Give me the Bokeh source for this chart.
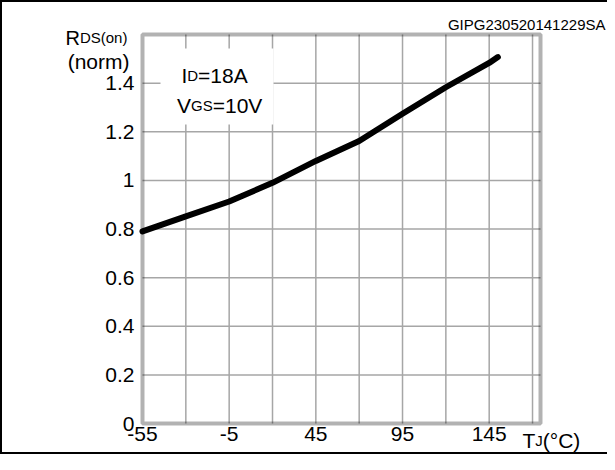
from bokeh.plotting import figure
from bokeh.models import (FixedTicker, Label, BoxAnnotation, Range1d,
                          ColumnDataSource, PrintfTickFormatter)
from bokeh.layouts import column
from bokeh.embed import file_html
from bokeh.resources import INLINE

# ---------------- data ----------------
tj_c = [-55, -30, -5, 20, 45, 70, 95, 120, 145, 150]
rds_norm = [0.79, 0.852, 0.913, 0.99, 1.08, 1.162, 1.274, 1.383, 1.483, 1.507]

x_tick_values = [-55, -5, 45, 95, 145]
x_grid_values = [-30, -5, 20, 45, 70, 95, 120, 145, 170]
y_tick_values = [0, 0.2, 0.4, 0.6, 0.8, 1.0, 1.2, 1.4]
y_grid_values = [0.2, 0.4, 0.6, 0.8, 1.0, 1.2, 1.4]

x_min, x_max = -55, 174.6      # plot box limits
y_min, y_max = 0, 1.6

FONT = "Liberation Sans"

# ---------------- geometry (picture px) ----------------
W, H = 605, 450                 # canvas; sits at (2, 2) inside the bordered box
OX, OY = 2, 2
BOX_L, BOX_R, BOX_T, BOX_B = 142, 540, 34, 423
PXX = (BOX_R - BOX_L) / (x_max - x_min)
PXY = (BOX_B - BOX_T) / (y_max - y_min)

def X(px):
    return x_min + (px - BOX_L) / PXX
def Y(py):
    return y_min + (BOX_B - py) / PXY

p = figure(width=W, height=H, output_backend="svg", toolbar_location=None,
           x_range=Range1d(X(OX), X(OX + W)), y_range=Range1d(Y(OY + H), Y(OY)),
           min_border=0)
p.min_border_left = p.min_border_right = p.min_border_top = p.min_border_bottom = 0

p.background_fill_color = "white"
p.border_fill_color = "white"
p.outline_line_color = None
p.xgrid.visible = False
p.ygrid.visible = False

# grid lines of the chart box
p.segment(x0=x_grid_values, y0=[y_min] * len(x_grid_values),
          x1=x_grid_values, y1=[y_max] * len(x_grid_values),
          line_color="#a6a6a6", line_width=1.5)
p.segment(x0=[x_min] * len(y_grid_values), y0=y_grid_values,
          x1=[x_max] * len(y_grid_values), y1=y_grid_values,
          line_color="#a6a6a6", line_width=1.5)

# axes fixed on the box edges
p.xaxis.fixed_location = y_min
p.yaxis.fixed_location = x_min
p.xaxis.ticker = FixedTicker(ticks=x_tick_values)
p.xaxis.formatter = PrintfTickFormatter(format="%d")
p.yaxis.ticker = FixedTicker(ticks=y_tick_values)
p.yaxis.formatter = PrintfTickFormatter(format="%g")
for ax in (p.xaxis, p.yaxis):
    ax.axis_line_color = None
    ax.major_tick_line_color = None
    ax.minor_tick_line_color = None
    ax.major_tick_in = 0
    ax.major_tick_out = 0
    ax.major_label_text_font = FONT
    ax.major_label_text_font_size = "21px"
    ax.major_label_text_color = "black"
p.xaxis.major_label_standoff = 3
p.yaxis.major_label_standoff = 8

# curve
src = ColumnDataSource(dict(t=tj_c, r=rds_norm))
p.line("t", "r", source=src, line_color="black", line_width=6,
       line_cap="round", line_join="round")

# chart box
p.add_layout(BoxAnnotation(left=x_min, right=x_max, bottom=y_min, top=y_max,
                           fill_alpha=0, line_color="black", line_width=4))

# white box behind the condition text
p.add_layout(BoxAnnotation(left=X(160), right=X(273), top=Y(48), bottom=Y(124),
                           fill_color="white", fill_alpha=1.0, line_alpha=0))

def lab(text, px, py, size, align="left"):
    p.add_layout(Label(x=X(px), y=Y(py), text=text, text_font=FONT,
                       text_font_size=f"{size}px", text_color="black",
                       text_align=align, text_baseline="alphabetic"))

# test conditions
lab("I", 181, 75, 21)
lab("D", 186.8, 75, 15)
lab("=18A", 197.6, 75, 21)
lab("V", 176.5, 105, 21)
lab("GS", 190.5, 105, 15)
lab("=10V", 212.2, 105, 21)

# y axis title
lab("R", 65, 37, 20)
lab("DS(on)", 79.4, 37, 15)
lab("(norm)", 129, 61, 21, align="right")

# x axis title
lab("T", 522, 440, 21)
lab("J", 534.8, 440, 15)
lab("(°C)", 542.3, 440, 21)

# figure code
lab("GIPG230520141229SA", 605, 24, 15, align="right")

layout = column(p, styles={"border-left": "2px solid black",
                           "border-top": "2px solid black",
                           "border-bottom": "2px solid black"})

open("out.html", "w").write(file_html(layout, INLINE))
